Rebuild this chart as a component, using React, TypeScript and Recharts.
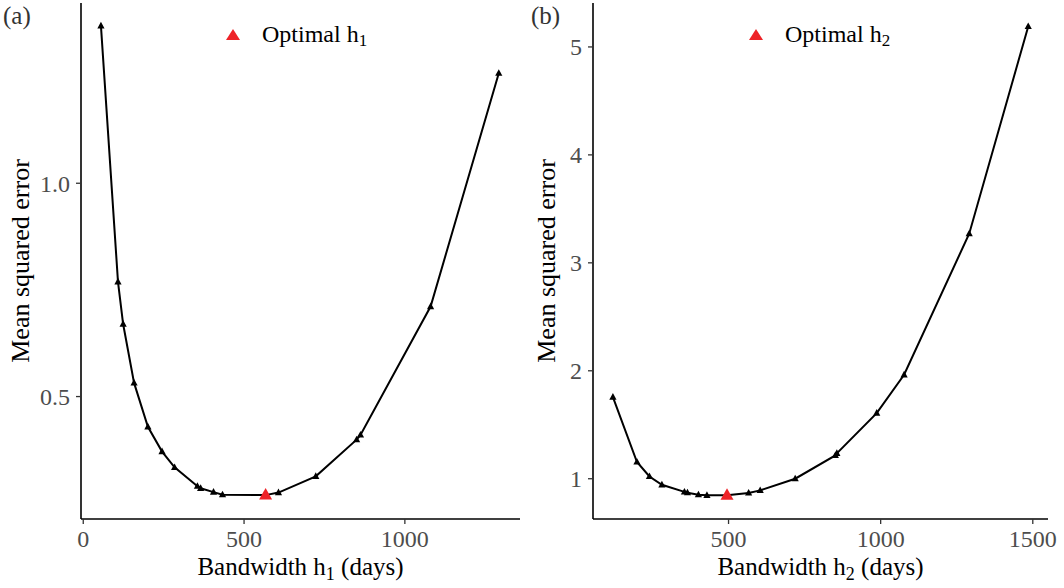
import React from 'react';
import { ComposedChart, Line, Scatter, XAxis, YAxis, Legend, Label } from 'recharts';

// panel (a): bandwidth h1
const h1Values = [55, 108, 124, 158, 201, 245, 284, 355, 365, 405, 433, 567, 607, 723, 850, 862, 1080, 1292];
const mse1Values = [1.369, 0.769, 0.670, 0.532, 0.429, 0.371, 0.334, 0.290, 0.285, 0.276, 0.270, 0.269, 0.275, 0.313, 0.399, 0.410, 0.711, 1.258];
const optimalH1 = [567];
const optimalMse1 = [0.269];
const xTicks1 = [0, 500, 1000];
const yTicks1 = [0.5, 1.0];

// panel (b): bandwidth h2
const h2Values = [120, 199, 240, 281, 355, 365, 401, 429, 495, 566, 604, 719, 851, 856, 987, 1077, 1291, 1485];
const mse2Values = [1.756, 1.155, 1.021, 0.944, 0.878, 0.870, 0.852, 0.846, 0.848, 0.868, 0.892, 1.0, 1.216, 1.235, 1.608, 1.963, 3.27, 5.19];
const optimalH2 = [495];
const optimalMse2 = [0.848];
const xTicks2 = [500, 1000, 1500];
const yTicks2 = [1, 2, 3, 4, 5];

const FONT = '"Liberation Serif", "Times New Roman", serif';

const toRows = (xs: number[], ys: number[]) => xs.map((h, i) => ({ h, mse: ys[i] }));

const data1 = toRows(h1Values, mse1Values);
const opt1 = toRows(optimalH1, optimalMse1);
const data2 = toRows(h2Values, mse2Values);
const opt2 = toRows(optimalH2, optimalMse2);

// black triangle markers, skipped where the red optimum sits
const triangleDot = (skip: number[]) => (props: any) => {
  const { cx, cy, index, payload } = props;
  if (cx == null || cy == null || skip.includes(payload?.h)) return <g key={`d${index}`} />;
  return <polygon key={`d${index}`} points={`${cx},${cy - 4} ${cx - 3.6},${cy + 2.6} ${cx + 3.6},${cy + 2.6}`} fill="#000" />;
};

const RedTriangle = (props: any) => {
  const { cx, cy } = props;
  if (cx == null || cy == null) return null;
  return <polygon points={`${cx},${cy - 7} ${cx - 6.5},${cy + 4.5} ${cx + 6.5},${cy + 4.5}`} fill="#EE2328" />;
};

const tickStyle = { fill: '#4D4D4D', fontSize: 24, fontFamily: FONT };

const legendContent = (sub: string) => () => (
  <div style={{ display: 'flex', alignItems: 'center', fontFamily: FONT, fontSize: 24, color: '#000' }}>
    <svg width={14} height={12} style={{ marginTop: -6 }}>
      <polygon points="7,0 0,11 14,11" fill="#EE2328" />
    </svg>
    <span style={{ marginLeft: 22, lineHeight: '28px' }}>
      Optimal h<sub style={{ fontSize: 17, verticalAlign: '-4px' }}>{sub}</sub>
    </span>
  </div>
);

const xTitle = (sub: string) => (props: any) => {
  const vb = props.viewBox;
  return (
    <text x={vb.x + vb.width / 2} y={vb.y + 56} textAnchor="middle" fontFamily={FONT} fontSize={25} fill="#000">
      Bandwidth h<tspan fontSize={18} dy={5}>{sub}</tspan>
      <tspan dy={-5}> (days)</tspan>
    </text>
  );
};

const yTitle = (bx: number) => () => (
  <text x={bx} y={261} transform={`rotate(-90, ${bx}, 261)`} textAnchor="middle" fontFamily={FONT} fontSize={26} fill="#000">
    Mean squared error
  </text>
);

const tag = (label: string, left: number) => (
  <div style={{ position: 'absolute', left, top: 2, fontFamily: FONT, fontSize: 25, color: '#333', lineHeight: '28px' }}>
    {label}
  </div>
);

function Panel({ data, opt, optH, sub, xDomain, yDomain, xTicks, yTicks, yFmt, yWidth, marginLeft, marginRight, titleX, legendLeft }: any) {
  return (
    <ComposedChart width={532} height={588} margin={{ top: 3, right: marginRight, bottom: 29, left: marginLeft }}>
      <XAxis
        type="number"
        dataKey="h"
        domain={xDomain}
        ticks={xTicks}
        height={40}
        tick={tickStyle}
        tickSize={5}
        tickMargin={6}
        axisLine={{ stroke: '#000', strokeWidth: 1.6 }}
        tickLine={{ stroke: '#333', strokeWidth: 1.3 }}
        allowDataOverflow
      >
        <Label content={xTitle(sub)} />
      </XAxis>
      <YAxis
        type="number"
        dataKey="mse"
        domain={yDomain}
        ticks={yTicks}
        width={yWidth}
        tick={tickStyle}
        tickFormatter={yFmt}
        tickSize={5}
        tickMargin={6}
        axisLine={{ stroke: '#000', strokeWidth: 1.6 }}
        tickLine={{ stroke: '#333', strokeWidth: 1.3 }}
        allowDataOverflow
      >
        <Label content={yTitle(titleX)} />
      </YAxis>
      <Legend
        verticalAlign="middle"
        layout="horizontal"
        content={legendContent(sub)}
        wrapperStyle={{ position: 'absolute', top: 20, left: legendLeft, width: 'auto' }}
      />
      <Scatter data={opt} dataKey="mse" shape={<RedTriangle />} isAnimationActive={false} legendType="none" />
      <Line
        data={data}
        type="linear"
        dataKey="mse"
        stroke="#000"
        strokeWidth={2}
        dot={triangleDot(optH)}
        activeDot={false}
        isAnimationActive={false}
        legendType="none"
      />
    </ComposedChart>
  );
}

export default function App() {
  return (
    <div style={{ position: 'absolute', left: 0, top: 0, width: 1064, height: 588, background: '#fff' }}>
      <div style={{ position: 'absolute', left: 0, top: 0 }}>
        <Panel
          data={data1}
          opt={opt1}
          optH={optimalH1}
          sub="1"
          xDomain={[-7, 1358]}
          yDomain={[0.213, 1.4225]}
          xTicks={xTicks1}
          yTicks={yTicks1}
          yFmt={(v: number) => v.toFixed(1)}
          yWidth={50}
          marginLeft={31}
          marginRight={12}
          titleX={29}
          legendLeft={226}
        />
      </div>
      <div style={{ position: 'absolute', left: 532, top: 0 }}>
        <Panel
          data={data2}
          opt={opt2}
          optH={optimalH2}
          sub="2"
          xDomain={[54.5, 1550]}
          yDomain={[0.627, 5.407]}
          xTicks={xTicks2}
          yTicks={yTicks2}
          yFmt={(v: number) => String(v)}
          yWidth={40}
          marginLeft={21}
          marginRight={16}
          titleX={23}
          legendLeft={217}
        />
      </div>
      {tag('(a)', 3)}
      {tag('(b)', 531)}
    </div>
  );
}
